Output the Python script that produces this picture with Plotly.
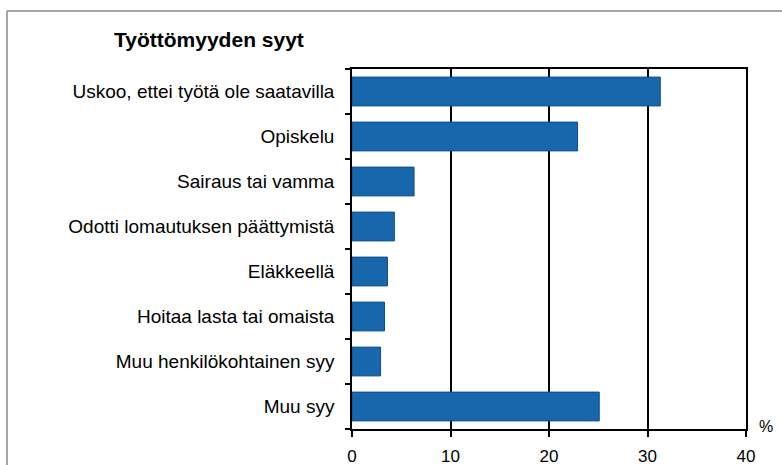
import plotly.graph_objects as go

categories = [
    "Uskoo, ettei työtä ole saatavilla",
    "Opiskelu",
    "Sairaus tai vamma",
    "Odotti lomautuksen päättymistä",
    "Eläkkeellä",
    "Hoitaa lasta tai omaista",
    "Muu henkilökohtainen syy",
    "Muu syy",
]
values = [31.3, 22.9, 6.3, 4.3, 3.6, 3.3, 2.9, 25.1]
x_ticks = [0, 10, 20, 30, 40]
title_text = "Työttömyyden syyt"
unit_text = "%"

FONT = "Liberation Sans, Arial, sans-serif"

fig = go.Figure()
fig.add_trace(go.Bar(
    x=values,
    y=categories,
    orientation="h",
    marker=dict(color="#1866ac", line=dict(color="#0f4f8f", width=1)),
    width=0.64,
    hoverinfo="x+y",
))

W, H = 782, 465
L, R, T, B = 352, 36, 69, 36
pw = W - L - R
ph = H - T - B

def px_x(p):
    return (p - L) / pw

def px_y(p):
    return (H - B - p) / ph

fig.update_layout(
    width=W, height=H,
    margin=dict(l=L, r=R, t=T, b=B, pad=0, autoexpand=False),
    paper_bgcolor="white",
    plot_bgcolor="white",
    showlegend=False,
    font=dict(family=FONT, size=17, color="#000000"),
    xaxis=dict(
        range=[0, 40],
        tickvals=x_ticks,
        ticktext=[str(v) for v in x_ticks],
        showgrid=True, gridcolor="#000000", gridwidth=1.5,
        showline=True, linecolor="#000000", linewidth=1.5, mirror=True,
        ticks="outside", ticklen=6, tickcolor="#000000", tickwidth=1.5,
        ticklabelstandoff=5,
        zeroline=False,
        tickfont=dict(family=FONT, size=17),
        fixedrange=True,
    ),
    yaxis=dict(
        categoryorder="array",
        categoryarray=categories[::-1],
        autorange=False,
        range=[-0.5, len(categories) - 0.5],
        showgrid=False,
        showline=True, linecolor="#000000", linewidth=1.5, mirror=True,
        ticks="outside", ticklen=5, tickcolor="#000000", tickwidth=1.5,
        tickson="boundaries",
        ticklabelstandoff=12,
        tickfont=dict(family=FONT, size=19),
        fixedrange=True,
    ),
    shapes=[
        dict(type="line", xref="paper", yref="paper",
             x0=px_x(7), x1=px_x(W + 5), y0=px_y(11), y1=px_y(11),
             line=dict(color="#a6a6a6", width=2)),
        dict(type="line", xref="paper", yref="paper",
             x0=px_x(7), x1=px_x(7), y0=px_y(11), y1=px_y(H + 5),
             line=dict(color="#a6a6a6", width=2)),
    ],
    annotations=[
        dict(text="<b>" + title_text + "</b>", xref="paper", yref="paper",
             x=px_x(112), y=px_y(39), xanchor="left", yanchor="middle",
             showarrow=False, font=dict(family=FONT, size=21, color="#000000")),
        dict(text=unit_text, xref="paper", yref="paper",
             x=px_x(757), y=px_y(426), xanchor="left", yanchor="middle",
             showarrow=False, font=dict(family=FONT, size=16, color="#000000")),
    ],
)

fig.write_html(
    "out.html",
    config={"displayModeBar": False},
    post_script="document.body.style.margin='0';document.body.style.overflow='hidden';",
)
